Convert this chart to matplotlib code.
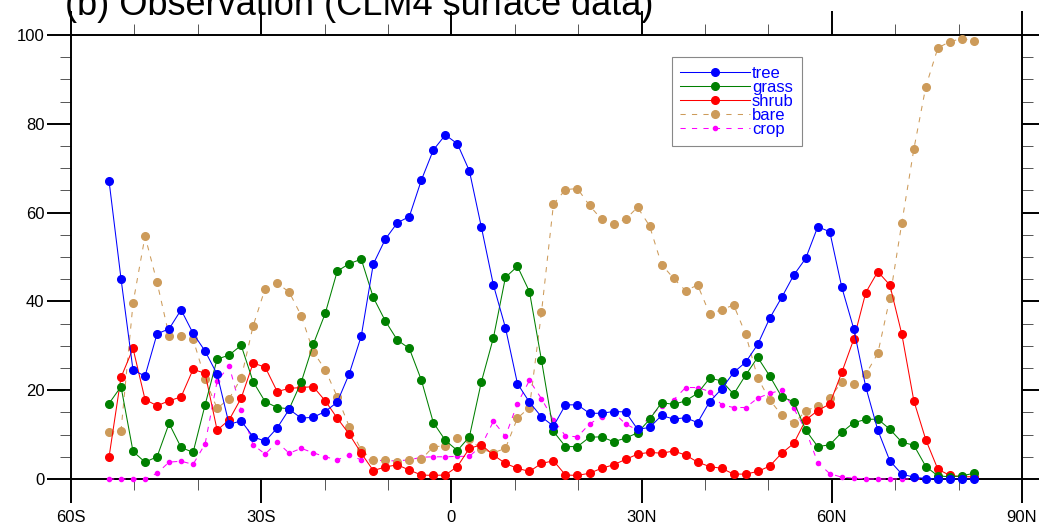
import numpy as np
import matplotlib
matplotlib.use("Agg")
from matplotlib import pyplot as plt
from matplotlib.ticker import MultipleLocator

# latitude grid (1.9 deg model grid, 54S .. 82N)
lat = np.linspace(-90, 90, 96)[19:92]

tree = [67.2, 45.1, 24.5, 23.2, 32.7, 33.8, 38.1, 32.8, 28.8, 23.6,
        12.3, 13.1, 9.5, 8.5, 11.5, 15.7, 13.7, 13.9, 15.2, 17.3,
        23.7, 32.2, 48.4, 54.0, 57.7, 59.1, 67.3, 74.1, 77.5, 75.5,
        69.4, 56.7, 43.7, 34.1, 21.5, 17.3, 14.0, 11.9, 16.7, 16.7,
        14.8, 14.8, 15.2, 15.1, 11.2, 11.6, 14.3, 13.5, 13.8, 12.7,
        17.4, 20.3, 24.0, 26.3, 30.3, 36.2, 40.9, 45.9, 49.7, 56.8,
        55.7, 43.2, 33.8, 20.7, 11.0, 4.1, 1.1, 0.4, 0.1, 0.0,
        0.0, 0.0, 0.0]
grass = [17.0, 20.8, 6.2, 3.8, 5.0, 12.5, 7.1, 6.0, 16.7, 27.0,
         27.9, 30.1, 21.9, 17.4, 16.1, 15.8, 21.8, 30.3, 37.3, 46.8,
         48.5, 49.5, 40.9, 35.6, 31.3, 29.4, 22.3, 12.7, 8.7, 6.4,
         9.5, 21.9, 31.8, 45.4, 47.9, 42.2, 26.8, 10.7, 7.3, 7.3,
         9.4, 9.5, 8.4, 9.2, 10.4, 13.4, 17.2, 16.8, 17.6, 19.3,
         22.7, 22.1, 19.1, 23.4, 27.4, 23.2, 18.5, 17.4, 11.0, 7.3,
         7.7, 10.5, 12.7, 13.4, 13.5, 11.2, 8.3, 7.6, 2.8, 0.7,
         0.5, 0.7, 1.3]
shrub = [4.9, 22.9, 29.4, 17.9, 16.5, 17.6, 18.5, 24.7, 23.8, 11.0,
         13.3, 18.2, 26.1, 25.2, 19.7, 20.4, 20.6, 20.8, 17.6, 13.7,
         10.1, 5.8, 1.9, 2.7, 3.2, 2.0, 0.9, 0.8, 0.9, 2.8,
         6.9, 7.7, 5.4, 3.5, 2.4, 1.7, 3.5, 4.1, 0.9, 0.8,
         1.3, 2.4, 3.2, 4.4, 5.6, 6.0, 5.8, 6.3, 5.4, 3.8,
         2.8, 2.4, 1.1, 1.1, 1.7, 2.9, 5.8, 8.0, 13.3, 15.4,
         16.9, 24.0, 31.5, 42.0, 46.7, 43.7, 32.6, 17.6, 8.8, 2.2,
         0.8, 0.5, 0.5]
bare = [10.5, 10.9, 39.6, 54.7, 44.3, 32.3, 32.1, 31.5, 22.5, 15.9,
        18.1, 22.7, 34.5, 42.9, 44.1, 42.1, 36.8, 28.7, 24.6, 18.5,
        11.8, 6.5, 4.3, 4.2, 3.9, 4.3, 4.4, 7.3, 7.4, 9.2,
        9.0, 6.7, 5.9, 6.9, 13.7, 16.1, 37.5, 61.9, 65.2, 65.4,
        61.6, 58.5, 57.4, 58.5, 61.2, 57.0, 48.3, 45.2, 42.4, 43.7,
        37.2, 38.1, 39.2, 32.6, 22.8, 17.8, 14.4, 12.5, 15.3, 16.5,
        18.3, 21.8, 21.5, 23.6, 28.3, 40.7, 57.7, 74.3, 88.4, 97.1,
        98.5, 99.2, 98.7]
crop = [0, 0, 0, 0, 1.3, 3.8, 4.0, 3.3, 7.9, 22.0,
        25.5, 15.5, 7.7, 5.6, 8.3, 5.8, 6.9, 5.9, 5.0, 4.3,
        5.4, 4.3, 4.3, 4.1, 4.1, 4.3, 4.9, 5.0, 5.0, 5.1,
        5.1, 7.5, 13.0, 9.6, 17.0, 22.2, 18.1, 13.3, 9.7, 9.5,
        12.4, 14.0, 15.0, 12.4, 11.0, 14.0, 16.5, 17.8, 20.6, 20.6,
        19.7, 16.7, 16.1, 16.1, 18.2, 19.3, 20.0, 15.9, 11.0, 3.7,
        1.2, 0.4, 0.2, 0, 0, 0, 0, 0, 0, 0,
        0, 0, 0]

xticks = [-60, -30, 0, 30, 60, 90]
xlabels = ["60S", "30S", "0", "30N", "60N", "90N"]

plt.rcParams["font.family"] = ["Liberation Sans", "DejaVu Sans"]

fig = plt.figure(figsize=(10.39, 5.24), dpi=100)
ax = fig.add_axes([0.0683, 0.0859, 0.9153, 0.8473])

# tree drawn last so it sits on top
ax.plot(lat, tree, color="#0000FF", lw=0.75, marker="o", ms=5.5, label="tree", zorder=7, clip_on=False)
ax.plot(lat, grass, color="#008000", lw=0.75, marker="o", ms=5.5, label="grass", zorder=6, clip_on=False)
ax.plot(lat, shrub, color="#FF0000", lw=0.75, marker="o", ms=5.5, label="shrub", zorder=5, clip_on=False)
ax.plot(lat, bare, color="#CD9B5A", lw=0.75, ls=(0, (5, 6)), marker="o", ms=5.5,
        label="bare", zorder=4, clip_on=False)
ax.plot(lat, crop, color="#FF00FF", lw=0.75, ls=(0, (5, 6)), marker="o", ms=3,
        label="crop", zorder=3, clip_on=False)

ax.set_xlim(-60, 90)
ax.set_ylim(0, 100)
ax.set_xticks(xticks)
ax.set_xticklabels(xlabels)
ax.xaxis.set_minor_locator(MultipleLocator(10))
ax.yaxis.set_major_locator(MultipleLocator(20))
ax.yaxis.set_minor_locator(MultipleLocator(5))
ax.tick_params(which="both", direction="out", top=True, right=True)
ax.tick_params(which="major", length=17, width=1.4, labelsize=12)
ax.tick_params(axis="y", which="major", pad=2)
ax.tick_params(axis="x", which="major", pad=5)
ax.tick_params(which="minor", length=8, width=0.7, color="#555555")
for s in ax.spines.values():
    s.set_linewidth(1.4)

leg = ax.legend(loc="upper left", bbox_to_anchor=(0.632, 0.95), borderaxespad=0,
                fontsize=12, handlelength=4.2, handletextpad=0.1, labelspacing=-0.05,
                borderpad=0.5, fancybox=False, edgecolor="#888888", framealpha=1)
leg.get_frame().set_linewidth(0.8)
for t in leg.get_texts():
    t.set_color("#0000FF")

# title is partly cut off at the top in the reference
fig.text(0.0625, 0.972, "(b) Observation (CLM4 surface data)", fontsize=26, va="baseline")

fig.savefig("out.png", dpi=100)
